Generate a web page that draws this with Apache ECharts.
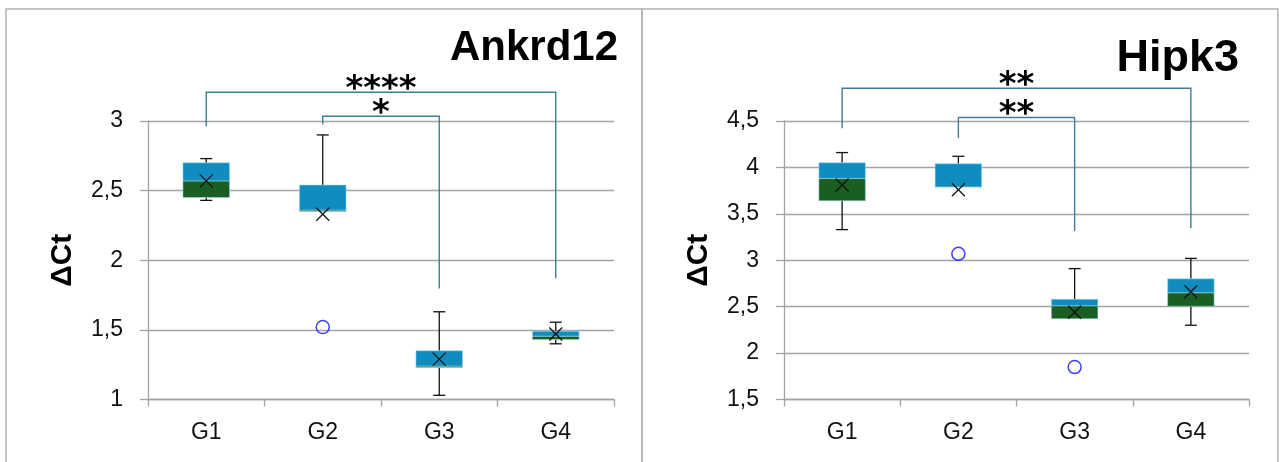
<!DOCTYPE html>
<html>
<head>
<meta charset="utf-8">
<title>Ankrd12 / Hipk3 ΔCt</title>
<script src="https://cdn.jsdelivr.net/npm/echarts@6/dist/echarts.min.js"></script>
<style>
  html, body { margin: 0; padding: 0; background: #fff; }
  #chart { width: 1279px; height: 462px; }
</style>
</head>
<body>
<div id="chart"></div>
<script>
// Groups on the category axis
const categories = ['G1', 'G2', 'G3', 'G4'];

// Ankrd12: [min, Q1, median, Q3, max] per group, plus means and outliers
const ankrdBoxes = [
  [2.43, 2.45, 2.57, 2.70, 2.73],
  [2.35, 2.35, 2.36, 2.54, 2.90],
  [1.03, 1.23, 1.24, 1.35, 1.63],
  [1.40, 1.43, 1.455, 1.49, 1.555]
];
const ankrdMeans = [2.57, 2.33, 1.29, 1.47];
const ankrdOutliers = [[1, 1.52]];
const ankrdTicks = [1, 1.5, 2, 2.5, 3];

// Hipk3: [min, Q1, median, Q3, max] per group, plus means and outliers
const hipkBoxes = [
  [3.33, 3.64, 3.88, 4.05, 4.16],
  [3.79, 3.79, 3.79, 4.04, 4.12],
  [2.37, 2.37, 2.51, 2.58, 2.91],
  [2.30, 2.505, 2.65, 2.80, 3.02]
];
const hipkMeans = [3.81, 3.76, 2.44, 2.66];
const hipkOutliers = [[1, 3.07], [2, 1.85]];
const hipkTicks = [1.5, 2, 2.5, 3, 3.5, 4, 4.5];

// Significance brackets: [fromGroup, toGroup, top, leftFoot, rightFoot]
const ankrdBrackets = [[0, 3, 3.206, 2.962, 1.871], [1, 2, 3.034, 2.974, 1.797]];
const ankrdStars = ['****', '*'];
const hipkBrackets = [[0, 3, 4.852, 4.421, 3.345], [1, 2, 4.537, 4.317, 3.316]];
const hipkStars = ['**', '**'];

const BLUE = '#118cbf';
const GREEN = '#1b5e22';
const GRID_GRAY = '#a3a3a3';
const BRACKET = '#3f7c98';
const FONT = '"Liberation Sans", Arial, sans-serif';

function boxRows(boxes, means) {
  return boxes.map((b, i) => [i, b[0], b[1], b[2], b[3], b[4], means[i]]);
}

function renderBox(params, api) {
  const i = api.value(0);
  const pMin = api.coord([i, api.value(1)]);
  const pQ1 = api.coord([i, api.value(2)]);
  const pMed = api.coord([i, api.value(3)]);
  const pQ3 = api.coord([i, api.value(4)]);
  const pMax = api.coord([i, api.value(5)]);
  const pMean = api.coord([i, api.value(6)]);
  const cx = pMed[0];
  const half = api.size([1, 0])[0] * 0.2;
  const cap = 6;
  const stroke = { stroke: '#111', lineWidth: 1.3 };
  const children = [];
  if (pMax[1] < pQ3[1] - 0.5) {
    children.push({ type: 'line', shape: { x1: cx, y1: pQ3[1], x2: cx, y2: pMax[1] }, style: stroke });
    children.push({ type: 'line', shape: { x1: cx - cap, y1: pMax[1], x2: cx + cap, y2: pMax[1] }, style: stroke });
  }
  if (pMin[1] > pQ1[1] + 0.5) {
    children.push({ type: 'line', shape: { x1: cx, y1: pQ1[1], x2: cx, y2: pMin[1] }, style: stroke });
    children.push({ type: 'line', shape: { x1: cx - cap, y1: pMin[1], x2: cx + cap, y2: pMin[1] }, style: stroke });
  }
  children.push({
    type: 'rect',
    shape: { x: cx - half, y: pMed[1], width: half * 2, height: pQ1[1] - pMed[1] },
    style: { fill: GREEN, stroke: 'rgba(160,215,235,0.7)', lineWidth: 0.8 }
  });
  children.push({
    type: 'rect',
    shape: { x: cx - half, y: pQ3[1], width: half * 2, height: pMed[1] - pQ3[1] },
    style: { fill: BLUE, stroke: 'rgba(160,215,235,0.7)', lineWidth: 0.8 }
  });
  const m = 6.5;
  children.push({ type: 'line', shape: { x1: cx - m, y1: pMean[1] - m, x2: cx + m, y2: pMean[1] + m }, style: stroke });
  children.push({ type: 'line', shape: { x1: cx - m, y1: pMean[1] + m, x2: cx + m, y2: pMean[1] - m }, style: stroke });
  return { type: 'group', children };
}

function bracketRenderer(stars) {
  return function (params, api) {
    const a = api.value(0), b = api.value(1);
    const top = api.value(2);
    const pl0 = api.coord([a, api.value(3)]);
    const pl1 = api.coord([a, top]);
    const pr1 = api.coord([b, top]);
    const pr0 = api.coord([b, api.value(4)]);
    const mid = (pl1[0] + pr1[0]) / 2;
    return {
      type: 'group',
      children: [
        {
          type: 'polyline',
          shape: { points: [pl0, pl1, pr1, pr0] },
          style: { stroke: BRACKET, lineWidth: 1.4, fill: null }
        },
        {
          type: 'text',
          style: {
            text: stars[params.dataIndex],
            x: mid,
            y: pl1[1] + 15,
            align: 'center',
            verticalAlign: 'bottom',
            fill: '#000',
            font: 'bold 34px "DejaVu Sans", sans-serif'
          }
        }
      ]
    };
  };
}

function yAxis(gridIndex, ticks) {
  return {
    type: 'value',
    gridIndex,
    min: ticks[0],
    max: ticks[ticks.length - 1],
    interval: 0.5,
    name: 'ΔCt',
    nameLocation: 'middle',
    nameGap: 70,
    nameTextStyle: { fontFamily: FONT, fontWeight: 'bold', fontSize: 30, color: '#000' },
    axisLine: { show: true, lineStyle: { color: GRID_GRAY, width: 1.3 } },
    axisTick: { show: true, inside: false, length: 8, lineStyle: { color: GRID_GRAY, width: 1.3 } },
    axisLabel: {
      margin: 25,
      fontFamily: FONT,
      fontSize: 23,
      color: '#111',
      formatter: v => String(v).replace('.', ',')
    },
    splitLine: { show: true, lineStyle: { color: GRID_GRAY, width: 1.3 } }
  };
}

function xAxis(gridIndex) {
  return {
    type: 'category',
    gridIndex,
    data: categories,
    boundaryGap: true,
    axisLine: { show: true, lineStyle: { color: GRID_GRAY, width: 1.3 } },
    axisTick: { show: true, length: 7, interval: 0, lineStyle: { color: GRID_GRAY, width: 1.3 } },
    axisLabel: { margin: 22, fontFamily: FONT, fontSize: 23, color: '#111' },
    splitLine: { show: false }
  };
}

function outlierSeries(idx, data) {
  return {
    type: 'scatter',
    xAxisIndex: idx,
    yAxisIndex: idx,
    data,
    symbol: 'circle',
    symbolSize: 13,
    itemStyle: { color: 'rgba(0,0,0,0)', borderColor: '#1010ff', borderWidth: 1.5 },
    silent: true,
    z: 5
  };
}

const chart = echarts.init(document.getElementById('chart'), null, { renderer: 'canvas' });

chart.setOption({
  backgroundColor: '#fff',
  animation: false,
  title: [
    {
      text: 'Ankrd12',
      right: 661,
      top: 27,
      padding: 0,
      textStyle: { fontFamily: FONT, fontWeight: 'bold', fontSize: 42, color: '#000' }
    },
    {
      text: 'Hipk3',
      right: 40,
      top: 36,
      padding: 0,
      textStyle: { fontFamily: FONT, fontWeight: 'bold', fontSize: 45, color: '#000' }
    }
  ],
  graphic: [
    { type: 'rect', shape: { x: 6, y: 9, width: 636, height: 470 }, style: { fill: null, stroke: '#b3b3b3', lineWidth: 1.5 }, silent: true },
    { type: 'rect', shape: { x: 642, y: 9, width: 636, height: 470 }, style: { fill: null, stroke: '#b3b3b3', lineWidth: 1.5 }, silent: true }
  ],
  grid: [
    { left: 148, width: 466, top: 121, height: 278.5 },
    { left: 784, width: 465, top: 121, height: 278.5 }
  ],
  xAxis: [xAxis(0), xAxis(1)],
  yAxis: [yAxis(0, ankrdTicks), yAxis(1, hipkTicks)],
  series: [
    {
      type: 'custom',
      xAxisIndex: 0,
      yAxisIndex: 0,
      data: boxRows(ankrdBoxes, ankrdMeans),
      encode: { x: 0, y: [1, 2, 3, 4, 5, 6] },
      renderItem: renderBox,
      silent: true,
      z: 4
    },
    outlierSeries(0, ankrdOutliers),
    {
      type: 'custom',
      xAxisIndex: 0,
      yAxisIndex: 0,
      data: ankrdBrackets,
      encode: { x: [0, 1], y: [2, 3, 4] },
      renderItem: bracketRenderer(ankrdStars),
      clip: false,
      silent: true,
      z: 6
    },
    {
      type: 'custom',
      xAxisIndex: 1,
      yAxisIndex: 1,
      data: boxRows(hipkBoxes, hipkMeans),
      encode: { x: 0, y: [1, 2, 3, 4, 5, 6] },
      renderItem: renderBox,
      silent: true,
      z: 4
    },
    outlierSeries(1, hipkOutliers),
    {
      type: 'custom',
      xAxisIndex: 1,
      yAxisIndex: 1,
      data: hipkBrackets,
      encode: { x: [0, 1], y: [2, 3, 4] },
      renderItem: bracketRenderer(hipkStars),
      clip: false,
      silent: true,
      z: 6
    }
  ]
});
</script>
</body>
</html>
